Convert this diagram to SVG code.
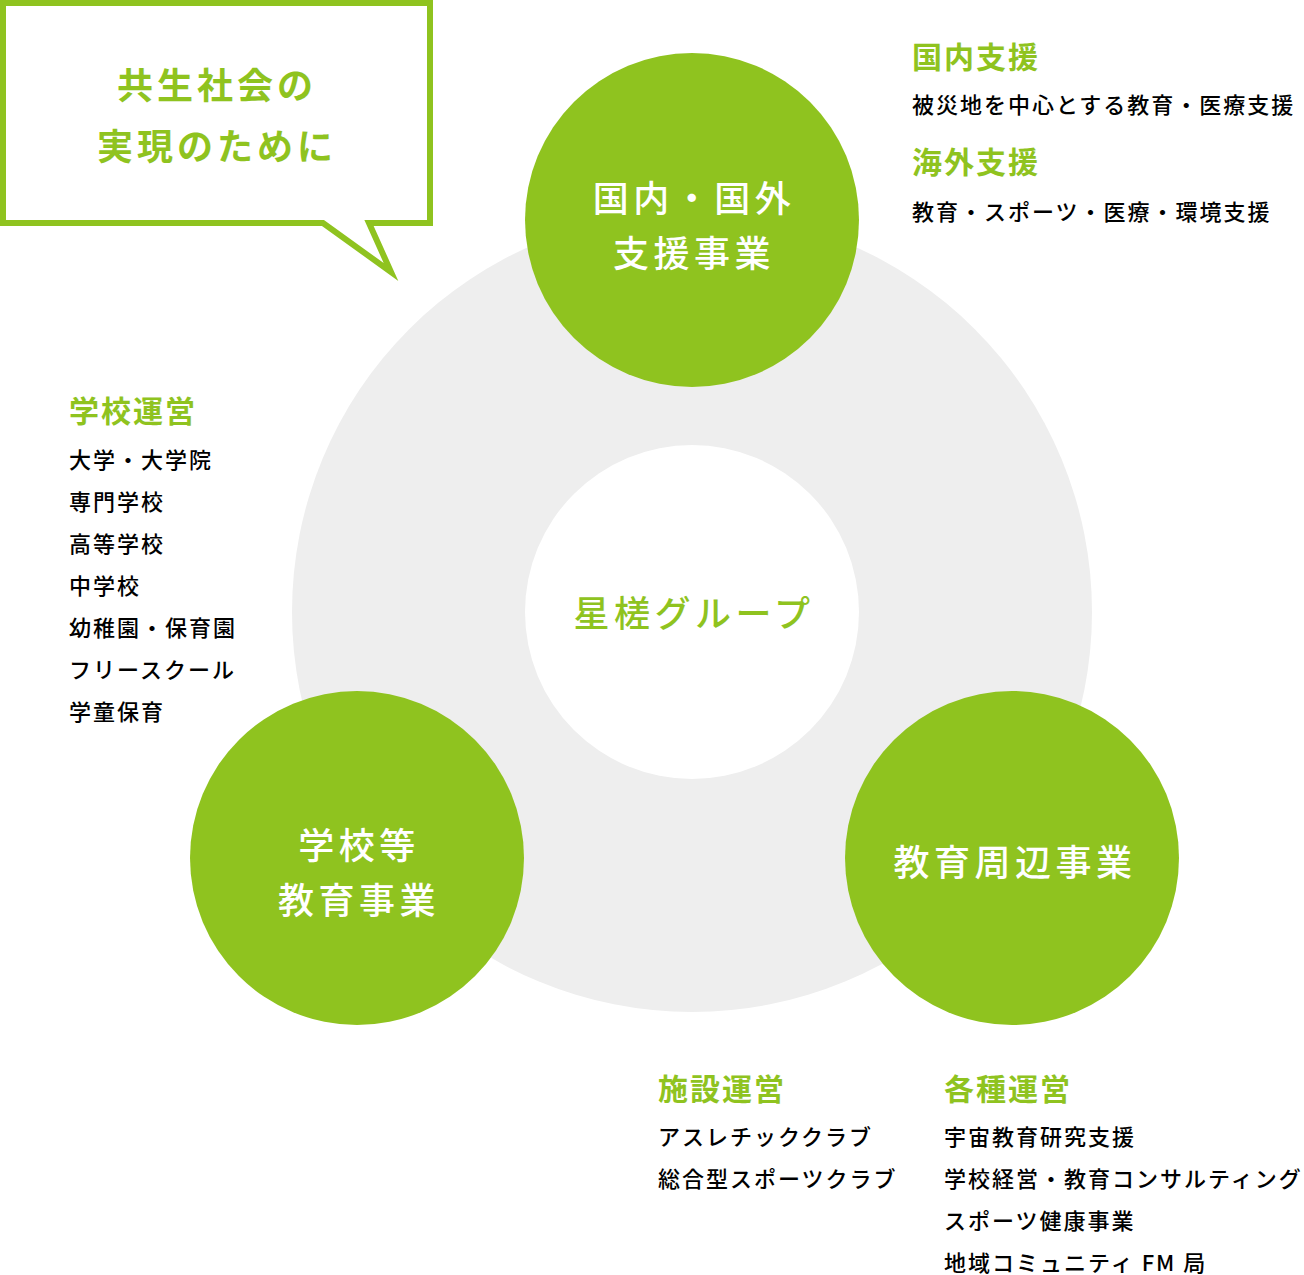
<svg xmlns="http://www.w3.org/2000/svg" width="1304" height="1275" viewBox="0 0 1304 1275">
<style>
text{font-family:"Noto Sans CJK JP","Noto Sans CJK SC",sans-serif;dominant-baseline:central}
.g{fill:#8fc31f}
.bub{font-size:36px;font-weight:700;letter-spacing:4px;text-anchor:middle;fill:#8fc31f}
.ct{font-size:36px;font-weight:500;letter-spacing:4.5px;text-anchor:middle;fill:#ffffff}
.cg{font-size:36px;font-weight:500;letter-spacing:4.5px;text-anchor:middle;fill:#8fc31f}
.h{font-size:30px;font-weight:700;letter-spacing:2px;fill:#8fc31f}
.b{font-size:22px;font-weight:500;letter-spacing:2px;fill:#000000}
</style>
<g id="ring">
<circle cx="692" cy="612" r="400" fill="#eeeeee"/>
<circle cx="692" cy="612" r="167" fill="#ffffff"/>
</g>
<g id="bubble">
<path d="M3,3 H430 V223 H369 L391,272 L323,223 H3 Z" fill="#ffffff" stroke="#8fc31f" stroke-width="6" stroke-linejoin="miter" stroke-miterlimit="10"/>
<text class="bub" x="217" y="83">共生社会の</text>
<text class="bub" x="217" y="144">実現のために</text>
</g>
<g id="center">
<text class="cg" x="694" y="611">星槎グループ</text>
</g>
<g id="node-top">
<circle class="g" cx="692" cy="220" r="167"/>
<text class="ct" x="694" y="196">国内・国外</text>
<text class="ct" x="694" y="251">支援事業</text>
</g>
<g id="node-left">
<circle class="g" cx="357" cy="858" r="167"/>
<text class="ct" x="359" y="843">学校等</text>
<text class="ct" x="359" y="898">教育事業</text>
</g>
<g id="node-right">
<circle class="g" cx="1012" cy="858" r="167"/>
<text class="ct" x="1015" y="860">教育周辺事業</text>
</g>
<g id="list-top-right">
<text class="h" x="912" y="55">国内支援</text>
<text class="b" x="912" y="103">被災地を中心とする教育・医療支援</text>
<text class="h" x="912" y="160">海外支援</text>
<text class="b" x="912" y="210">教育・スポーツ・医療・環境支援</text>
</g>
<g id="list-left">
<text class="h" x="69" y="409">学校運営</text>
<text class="b" x="69" y="458">大学・大学院</text>
<text class="b" x="69" y="500">専門学校</text>
<text class="b" x="69" y="542">高等学校</text>
<text class="b" x="69" y="584">中学校</text>
<text class="b" x="69" y="626">幼稚園・保育園</text>
<text class="b" x="69" y="668">フリースクール</text>
<text class="b" x="69" y="710">学童保育</text>
</g>
<g id="list-bottom-mid">
<text class="h" x="658" y="1087">施設運営</text>
<text class="b" x="658" y="1135">アスレチッククラブ</text>
<text class="b" x="658" y="1177">総合型スポーツクラブ</text>
</g>
<g id="list-bottom-right">
<text class="h" x="944" y="1087">各種運営</text>
<text class="b" x="944" y="1135">宇宙教育研究支援</text>
<text class="b" x="944" y="1177">学校経営・教育コンサルティング</text>
<text class="b" x="944" y="1219">スポーツ健康事業</text>
<text class="b" x="944" y="1261">地域コミュニティ FM 局</text>
</g>
<g id="connectors"></g>
</svg>
